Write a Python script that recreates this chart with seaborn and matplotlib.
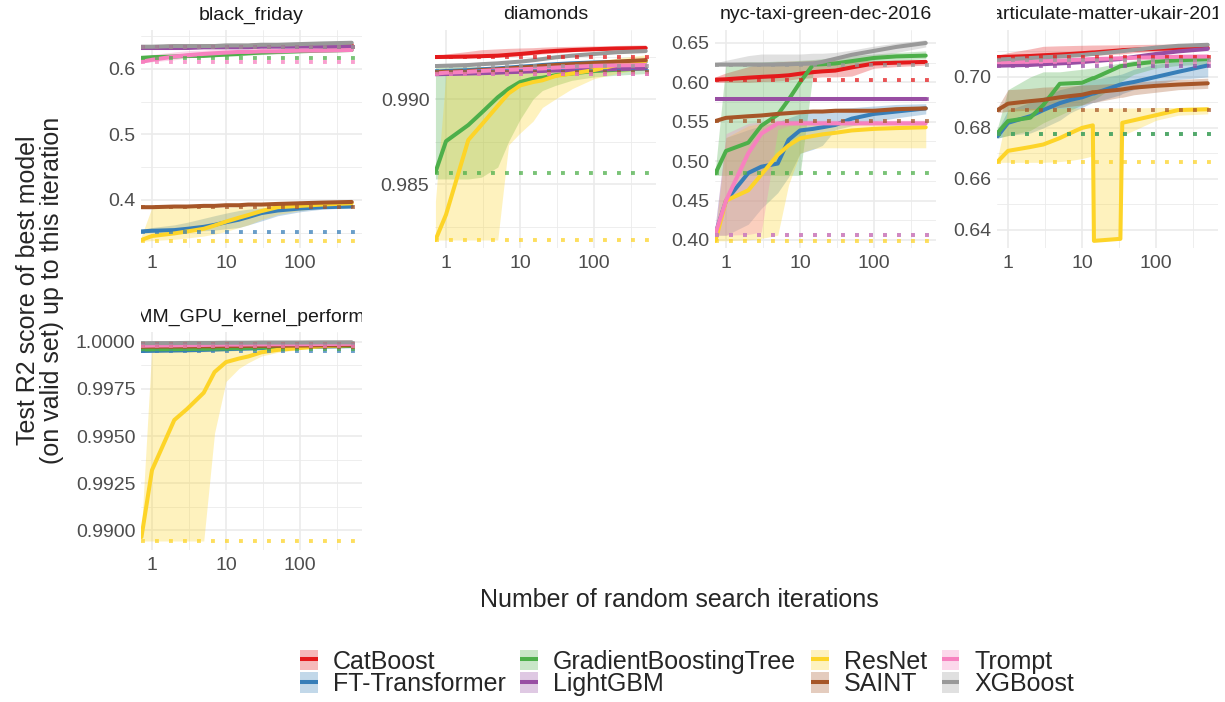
import numpy as np
import pandas as pd
import matplotlib.pyplot as plt
import seaborn as sns
from matplotlib.lines import Line2D
from matplotlib.patches import Patch
from matplotlib.ticker import FixedLocator, NullFormatter
from matplotlib.transforms import Bbox, TransformedBbox

# Data
# --------------

MODELS = ["CatBoost", "FT-Transformer", "GradientBoostingTree", "LightGBM",
          "ResNet", "SAINT", "Trompt", "XGBoost"]
PALETTE = ["#E41A1C", "#377EB8", "#4DAF4A", "#984EA3",
           "#FDD428", "#A65628", "#F781BF", "#999999"]

ITERS = [0.72, 1, 2, 3, 5, 7, 10, 15, 20, 30, 50, 100, 200, 500]
PM_ITERS = [0.72, 1, 2, 3, 5, 7, 10, 14, 14.5, 33, 35, 50, 100, 200, 500]

# black_friday
BF_MED = {
    "CatBoost": [0.633, 0.633, 0.634, 0.634, 0.634, 0.635, 0.635, 0.635, 0.635, 0.636, 0.636, 0.636, 0.637, 0.637],
    "FT-Transformer": [0.352, 0.353, 0.354, 0.356, 0.359, 0.362, 0.366, 0.370, 0.374, 0.380, 0.384, 0.387, 0.389, 0.390],
    "GradientBoostingTree": [0.617, 0.618, 0.619, 0.620, 0.620, 0.621, 0.622, 0.623, 0.624, 0.625, 0.626, 0.627, 0.628, 0.629],
    "LightGBM": [0.632, 0.632, 0.632, 0.632, 0.633, 0.633, 0.633, 0.633, 0.633, 0.634, 0.634, 0.634, 0.634, 0.634],
    "ResNet": [0.339, 0.345, 0.349, 0.352, 0.356, 0.361, 0.367, 0.373, 0.377, 0.383, 0.389, 0.391, 0.393, 0.395],
    "SAINT": [0.389, 0.389, 0.390, 0.390, 0.391, 0.391, 0.392, 0.392, 0.393, 0.393, 0.394, 0.395, 0.396, 0.397],
    "Trompt": [0.611, 0.614, 0.619, 0.621, 0.623, 0.624, 0.625, 0.626, 0.626, 0.627, 0.627, 0.628, 0.628, 0.629],
    "XGBoost": [0.634, 0.634, 0.635, 0.635, 0.635, 0.635, 0.636, 0.636, 0.636, 0.637, 0.637, 0.638, 0.639, 0.640],
}
BF_LO = {
    "FT-Transformer": [0.351, 0.351, 0.351, 0.352, 0.353, 0.354, 0.356, 0.358, 0.362, 0.368, 0.376, 0.382, 0.386, 0.388],
    "GradientBoostingTree": [0.616, 0.617, 0.617, 0.618, 0.618, 0.619, 0.620, 0.620, 0.621, 0.622, 0.623, 0.625, 0.626, 0.627],
    "ResNet": [0.337, 0.338, 0.340, 0.342, 0.345, 0.348, 0.352, 0.358, 0.362, 0.370, 0.378, 0.384, 0.388, 0.390],
    "Trompt": [0.610, 0.611, 0.614, 0.617, 0.619, 0.621, 0.622, 0.623, 0.624, 0.625, 0.626, 0.627, 0.628, 0.628],
}
BF_HI = {
    "FT-Transformer": [0.355, 0.358, 0.362, 0.366, 0.372, 0.376, 0.380, 0.384, 0.386, 0.388, 0.389, 0.390, 0.391, 0.392],
    "GradientBoostingTree": [0.619, 0.620, 0.622, 0.623, 0.624, 0.625, 0.626, 0.627, 0.628, 0.628, 0.629, 0.630, 0.631, 0.632],
    "ResNet": [0.345, 0.389, 0.389, 0.389, 0.389, 0.389, 0.389, 0.390, 0.390, 0.391, 0.392, 0.393, 0.395, 0.396],
    "Trompt": [0.614, 0.622, 0.626, 0.628, 0.629, 0.630, 0.630, 0.630, 0.630, 0.631, 0.631, 0.631, 0.631, 0.631],
}
BF_DEFAULT = {"CatBoost": 0.633, "FT-Transformer": 0.351, "GradientBoostingTree": 0.617,
              "LightGBM": 0.633, "ResNet": 0.3374, "SAINT": 0.389, "Trompt": 0.611, "XGBoost": 0.634}

# diamonds
DIA_MED = {
    "CatBoost": [0.99247, 0.99248, 0.99250, 0.99252, 0.99255, 0.99260, 0.99265, 0.99272, 0.99278, 0.99283, 0.99288, 0.99293, 0.99297, 0.99300],
    "FT-Transformer": [0.99160, 0.99165, 0.99170, 0.99175, 0.99180, 0.99185, 0.99190, 0.99195, 0.99200, 0.99205, 0.99210, 0.99215, 0.99218, 0.99220],
    "GradientBoostingTree": [0.98570, 0.98752, 0.98847, 0.98918, 0.99010, 0.99060, 0.99100, 0.99120, 0.99125, 0.99140, 0.99150, 0.99165, 0.99172, 0.99180],
    "LightGBM": [0.99146, 0.99147, 0.99150, 0.99152, 0.99155, 0.99158, 0.99160, 0.99163, 0.99165, 0.99168, 0.99170, 0.99173, 0.99176, 0.99180],
    "ResNet": [0.98171, 0.98320, 0.98759, 0.98847, 0.98960, 0.99033, 0.99080, 0.99100, 0.99110, 0.99135, 0.99150, 0.99170, 0.99200, 0.99224],
    "SAINT": [0.99159, 0.99160, 0.99165, 0.99170, 0.99175, 0.99180, 0.99185, 0.99190, 0.99195, 0.99200, 0.99205, 0.99212, 0.99220, 0.99229],
    "Trompt": [0.99150, 0.99155, 0.99160, 0.99165, 0.99170, 0.99172, 0.99175, 0.99178, 0.99180, 0.99185, 0.99190, 0.99195, 0.99198, 0.99200],
    "XGBoost": [0.99194, 0.99196, 0.99200, 0.99205, 0.99210, 0.99215, 0.99220, 0.99228, 0.99235, 0.99245, 0.99255, 0.99265, 0.99275, 0.99282],
}
DIA_LO = {
    "CatBoost": [0.99240, 0.99240, 0.99242, 0.99245, 0.99248, 0.99250, 0.99255, 0.99260, 0.99265, 0.99270, 0.99278, 0.99285, 0.99290, 0.99295],
    "GradientBoostingTree": [0.98530, 0.98530, 0.98530, 0.98540, 0.98600, 0.98750, 0.98880, 0.99000, 0.99050, 0.99080, 0.99110, 0.99130, 0.99140, 0.99150],
    "ResNet": [0.98171, 0.98171, 0.98171, 0.98171, 0.98171, 0.98730, 0.98800, 0.98870, 0.98950, 0.99000, 0.99060, 0.99120, 0.99150, 0.99180],
}
DIA_HI = {
    "CatBoost": [0.99255, 0.99265, 0.99280, 0.99290, 0.99295, 0.99298, 0.99300, 0.99302, 0.99305, 0.99308, 0.99310, 0.99312, 0.99315, 0.99318],
    "GradientBoostingTree": [0.99200, 0.99200, 0.99195, 0.99190, 0.99185, 0.99180, 0.99185, 0.99190, 0.99190, 0.99195, 0.99200, 0.99205, 0.99210, 0.99215],
    "ResNet": [0.98400, 0.99150, 0.99160, 0.99170, 0.99175, 0.99180, 0.99185, 0.99190, 0.99195, 0.99200, 0.99210, 0.99220, 0.99240, 0.99260],
}
DIA_DEFAULT = {"CatBoost": 0.99247, "FT-Transformer": 0.99165, "GradientBoostingTree": 0.98565,
               "LightGBM": 0.99146, "ResNet": 0.98171, "SAINT": 0.99160, "Trompt": 0.99150, "XGBoost": 0.99194}

# nyc-taxi-green-dec-2016
NYC_MED = {
    "CatBoost": [0.6035, 0.6040, 0.606, 0.607, 0.608, 0.609, 0.611, 0.613, 0.614, 0.615, 0.619, 0.624, 0.625, 0.626],
    "FT-Transformer": [0.408, 0.450, 0.485, 0.493, 0.497, 0.527, 0.539, 0.541, 0.543, 0.546, 0.554, 0.560, 0.563, 0.567],
    "GradientBoostingTree": [0.4845, 0.513, 0.5235, 0.545, 0.559, 0.578, 0.600, 0.6225, 0.623, 0.624, 0.627, 0.631, 0.633, 0.634],
    "LightGBM": [0.579, 0.579, 0.579, 0.579, 0.579, 0.579, 0.579, 0.579, 0.579, 0.579, 0.579, 0.579, 0.579, 0.579],
    "ResNet": [0.399, 0.450, 0.463, 0.483, 0.508, 0.520, 0.529, 0.532, 0.534, 0.536, 0.539, 0.541, 0.542, 0.543],
    "SAINT": [0.551, 0.555, 0.557, 0.558, 0.560, 0.561, 0.562, 0.563, 0.563, 0.564, 0.564, 0.564, 0.566, 0.567],
    "Trompt": [0.408, 0.450, 0.510, 0.535, 0.548, 0.548, 0.548, 0.548, 0.548, 0.548, 0.548, 0.548, 0.548, 0.548],
    "XGBoost": [0.6226, 0.6226, 0.6226, 0.6226, 0.6228, 0.623, 0.6235, 0.624, 0.626, 0.630, 0.635, 0.640, 0.645, 0.650],
}
NYC_LO = {
    "CatBoost": [0.600, 0.600, 0.600, 0.601, 0.602, 0.603, 0.605, 0.606, 0.607, 0.607, 0.608, 0.618, 0.620, 0.622],
    "FT-Transformer": [0.406, 0.406, 0.420, 0.440, 0.460, 0.480, 0.510, 0.515, 0.520, 0.540, 0.545, 0.550, 0.555, 0.560],
    "GradientBoostingTree": [0.482, 0.482, 0.482, 0.482, 0.482, 0.482, 0.482, 0.612, 0.615, 0.617, 0.620, 0.625, 0.628, 0.630],
    "ResNet": [0.399, 0.399, 0.400, 0.402, 0.406, 0.470, 0.510, 0.516, 0.517, 0.517, 0.517, 0.517, 0.517, 0.517],
    "Trompt": [0.406, 0.406, 0.407, 0.410, 0.540, 0.545, 0.546, 0.546, 0.546, 0.546, 0.546, 0.546, 0.546, 0.546],
    "XGBoost": [0.621, 0.621, 0.621, 0.621, 0.621, 0.622, 0.622, 0.623, 0.623, 0.624, 0.627, 0.632, 0.638, 0.645],
}
NYC_HI = {
    "CatBoost": [0.607, 0.612, 0.620, 0.624, 0.626, 0.627, 0.627, 0.628, 0.628, 0.628, 0.628, 0.628, 0.628, 0.628],
    "FT-Transformer": [0.420, 0.530, 0.540, 0.545, 0.550, 0.555, 0.560, 0.563, 0.565, 0.567, 0.568, 0.570, 0.572, 0.573],
    "GradientBoostingTree": [0.490, 0.625, 0.626, 0.626, 0.627, 0.627, 0.628, 0.629, 0.630, 0.632, 0.634, 0.636, 0.638, 0.640],
    "ResNet": [0.410, 0.530, 0.545, 0.548, 0.549, 0.550, 0.550, 0.550, 0.550, 0.550, 0.550, 0.550, 0.550, 0.550],
    "Trompt": [0.420, 0.535, 0.548, 0.550, 0.552, 0.552, 0.552, 0.552, 0.552, 0.552, 0.552, 0.552, 0.552, 0.552],
    "XGBoost": [0.625, 0.628, 0.634, 0.636, 0.636, 0.636, 0.636, 0.637, 0.637, 0.638, 0.641, 0.646, 0.650, 0.654],
}
NYC_DEFAULT = {"CatBoost": 0.6035, "FT-Transformer": 0.406, "GradientBoostingTree": 0.4845,
               "LightGBM": 0.579, "ResNet": 0.399, "SAINT": 0.551, "Trompt": 0.406, "XGBoost": 0.6226}

# particulate-matter-ukair-2017
PM_MED = {
    "CatBoost": [0.7078, 0.7079, 0.7082, 0.7085, 0.7088, 0.7090, 0.7093, 0.7096, 0.7096, 0.7104, 0.7105, 0.7107, 0.7110, 0.7112, 0.7114],
    "FT-Transformer": [0.6767, 0.6820, 0.6846, 0.6870, 0.6897, 0.6910, 0.6920, 0.6935, 0.6935, 0.6970, 0.6972, 0.6980, 0.7000, 0.7020, 0.7045],
    "GradientBoostingTree": [0.6780, 0.6827, 0.6840, 0.6890, 0.6973, 0.6975, 0.6977, 0.6995, 0.6995, 0.7042, 0.7043, 0.7050, 0.7060, 0.7065, 0.7070],
    "LightGBM": [0.7044, 0.7045, 0.7047, 0.7050, 0.7053, 0.7055, 0.7058, 0.7062, 0.7062, 0.7070, 0.7072, 0.7078, 0.7090, 0.7100, 0.7110],
    "ResNet": [0.6667, 0.6710, 0.6725, 0.6735, 0.6760, 0.6780, 0.6800, 0.6810, 0.6357, 0.6365, 0.6820, 0.6830, 0.6850, 0.6870, 0.6873],
    "SAINT": [0.6870, 0.6895, 0.6905, 0.6910, 0.6920, 0.6925, 0.6930, 0.6940, 0.6940, 0.6950, 0.6951, 0.6958, 0.6965, 0.6970, 0.6975],
    "Trompt": [0.7057, 0.7058, 0.7060, 0.7062, 0.7064, 0.7066, 0.7068, 0.7070, 0.7070, 0.7073, 0.7073, 0.7075, 0.7077, 0.7079, 0.7080],
    "XGBoost": [0.7068, 0.7070, 0.7074, 0.7077, 0.7080, 0.7083, 0.7086, 0.7090, 0.7090, 0.7100, 0.7101, 0.7106, 0.7115, 0.7122, 0.7126],
}
PM_LO = {
    "CatBoost": [0.7070, 0.7070, 0.7072, 0.7075, 0.7078, 0.7080, 0.7082, 0.7085, 0.7085, 0.7090, 0.7090, 0.7095, 0.7100, 0.7105, 0.7108],
    "FT-Transformer": [0.6760, 0.6770, 0.6780, 0.6800, 0.6830, 0.6860, 0.6880, 0.6900, 0.6900, 0.6930, 0.6935, 0.6950, 0.6970, 0.6990, 0.7000],
    "GradientBoostingTree": [0.6760, 0.6770, 0.6790, 0.6820, 0.6850, 0.6870, 0.6890, 0.6910, 0.6910, 0.6980, 0.6985, 0.7010, 0.7035, 0.7045, 0.7050],
    "ResNet": [0.6665, 0.6665, 0.6665, 0.6665, 0.6668, 0.6672, 0.6680, 0.6690, 0.6357, 0.6360, 0.6770, 0.6790, 0.6830, 0.6850, 0.6855],
    "SAINT": [0.6860, 0.6865, 0.6870, 0.6875, 0.6880, 0.6885, 0.6890, 0.6900, 0.6900, 0.6920, 0.6920, 0.6930, 0.6940, 0.6950, 0.6955],
}
PM_HI = {
    "CatBoost": [0.7085, 0.7095, 0.7110, 0.7120, 0.7122, 0.7123, 0.7124, 0.7125, 0.7125, 0.7126, 0.7126, 0.7127, 0.7128, 0.7129, 0.7130],
    "FT-Transformer": [0.6790, 0.6870, 0.6900, 0.6920, 0.6950, 0.6960, 0.6970, 0.6990, 0.6990, 0.7010, 0.7012, 0.7030, 0.7050, 0.7060, 0.7070],
    "GradientBoostingTree": [0.6800, 0.6950, 0.7000, 0.7020, 0.7020, 0.7025, 0.7030, 0.7035, 0.7035, 0.7055, 0.7055, 0.7065, 0.7075, 0.7080, 0.7082],
    "ResNet": [0.6680, 0.6875, 0.6875, 0.6877, 0.6877, 0.6878, 0.6878, 0.6878, 0.6878, 0.6878, 0.6878, 0.6878, 0.6880, 0.6880, 0.6882],
    "SAINT": [0.6880, 0.6950, 0.6955, 0.6960, 0.6962, 0.6965, 0.6968, 0.6970, 0.6970, 0.6975, 0.6975, 0.6980, 0.6985, 0.6990, 0.6995],
}
PM_DEFAULT = {"CatBoost": 0.7078, "FT-Transformer": 0.6775, "GradientBoostingTree": 0.6775,
              "LightGBM": 0.7044, "ResNet": 0.6665, "SAINT": 0.687, "Trompt": 0.7057, "XGBoost": 0.7068}

# SGEMM_GPU_kernel_performance
GPU_MED = {
    "CatBoost": [0.99988, 0.99988, 0.99989, 0.99990, 0.99990, 0.99991, 0.99991, 0.99992, 0.99992, 0.99993, 0.99993, 0.99994, 0.99994, 0.99995],
    "FT-Transformer": [0.99952, 0.99953, 0.99955, 0.99956, 0.99958, 0.99960, 0.99962, 0.99964, 0.99965, 0.99967, 0.99970, 0.99973, 0.99976, 0.99978],
    "GradientBoostingTree": [0.99960, 0.99961, 0.99962, 0.99963, 0.99964, 0.99965, 0.99966, 0.99968, 0.99969, 0.99971, 0.99973, 0.99975, 0.99977, 0.99979],
    "LightGBM": [0.99985, 0.99985, 0.99986, 0.99986, 0.99987, 0.99987, 0.99988, 0.99988, 0.99988, 0.99989, 0.99989, 0.99990, 0.99990, 0.99990],
    "ResNet": [0.98963, 0.99319, 0.99585, 0.99645, 0.99730, 0.99840, 0.99893, 0.99912, 0.99923, 0.99945, 0.99958, 0.99968, 0.99978, 0.99984],
    "SAINT": [0.99975, 0.99975, 0.99976, 0.99976, 0.99977, 0.99977, 0.99978, 0.99978, 0.99979, 0.99979, 0.99980, 0.99981, 0.99982, 0.99983],
    "Trompt": [0.99980, 0.99981, 0.99982, 0.99983, 0.99984, 0.99985, 0.99986, 0.99986, 0.99987, 0.99987, 0.99988, 0.99988, 0.99989, 0.99990],
    "XGBoost": [0.99993, 0.99994, 0.99994, 0.99995, 0.99995, 0.99995, 0.99996, 0.99996, 0.99996, 0.99997, 0.99997, 0.99997, 0.99998, 0.99998],
}
GPU_LO = {
    "GradientBoostingTree": [0.99945, 0.99945, 0.99946, 0.99947, 0.99948, 0.99950, 0.99952, 0.99955, 0.99958, 0.99962, 0.99966, 0.99970, 0.99973, 0.99975],
    "ResNet": [0.98942, 0.98942, 0.98942, 0.98942, 0.98942, 0.99516, 0.99790, 0.99860, 0.99890, 0.99925, 0.99945, 0.99960, 0.99972, 0.99978],
}
GPU_HI = {
    "GradientBoostingTree": [0.99970, 0.99972, 0.99974, 0.99975, 0.99976, 0.99977, 0.99978, 0.99979, 0.99980, 0.99981, 0.99982, 0.99983, 0.99984, 0.99985],
    "ResNet": [0.99000, 0.99985, 0.99988, 0.99990, 0.99991, 0.99992, 0.99993, 0.99993, 0.99994, 0.99994, 0.99995, 0.99995, 0.99996, 0.99996],
}
GPU_DEFAULT = {"CatBoost": 0.99990, "FT-Transformer": 0.99952, "GradientBoostingTree": 0.99960,
               "LightGBM": 0.99985, "ResNet": 0.98942, "SAINT": 0.99975, "Trompt": 0.99980, "XGBoost": 0.99993}

# Set-up
# --------------

sns.set_style("white")
plt.rcParams['font.family'] = ['Liberation Sans', 'DejaVu Sans']

W, H = 1225, 702
fig = plt.figure(figsize=(W / 100, H / 100), dpi=100)


def long_frame(iters, med, lo, hi):
    # three rows per point (lower, median, upper) so that seaborn's
    # median estimator + 100% interval gives line and ribbon
    rows = []
    for m in MODELS:
        for series in (lo.get(m, med[m]), med[m], hi.get(m, med[m])):
            for x, y in zip(iters, series):
                rows.append((m, x, y))
    return pd.DataFrame(rows, columns=["model", "iteration", "r2"])


panels = [
    ("black_friday", ITERS, BF_MED, BF_LO, BF_HI, BF_DEFAULT,
     (141, 30), (0.3267, 0.6595), [0.4, 0.5, 0.6], [0.35, 0.45, 0.55, 0.65], "{:.1f}"),
    ("diamonds", ITERS, DIA_MED, DIA_LO, DIA_HI, DIA_DEFAULT,
     (435, 30), (0.98124, 0.99406), [0.985, 0.990], [0.9825, 0.9875, 0.9925], "{:.3f}"),
    ("nyc-taxi-green-dec-2016", ITERS, NYC_MED, NYC_LO, NYC_HI, NYC_DEFAULT,
     (715, 30), (0.3898, 0.6665), [0.40, 0.45, 0.50, 0.55, 0.60, 0.65],
     [0.425, 0.475, 0.525, 0.575, 0.625], "{:.2f}"),
    ("particulate-matter-ukair-2017", PM_ITERS, PM_MED, PM_LO, PM_HI, PM_DEFAULT,
     (997, 30), (0.6329, 0.7184), [0.64, 0.66, 0.68, 0.70], [0.65, 0.67, 0.69, 0.71], "{:.2f}"),
    ("SGEMM_GPU_kernel_performance", ITERS, GPU_MED, GPU_LO, GPU_HI, GPU_DEFAULT,
     (141, 332), (0.98894, 1.00053), [0.9900, 0.9925, 0.9950, 0.9975, 1.0000],
     [0.99125, 0.99375, 0.99625, 0.99875], "{:.4f}"),
]

PW, PH = 221, 218
colors = dict(zip(MODELS, PALETTE))

for title, iters, med, lo, hi, default, (px, py), ylim, yt, ytm, fmt in panels:
    ax = fig.add_axes([px / W, 1 - (py + PH) / H, PW / W, PH / H])
    ax.set_xscale("log")
    df = long_frame(iters, med, lo, hi)
    sns.lineplot(data=df, x="iteration", y="r2", hue="model", hue_order=MODELS,
                 palette=PALETTE, estimator="median", errorbar=("pi", 100),
                 err_kws={"alpha": 0.3, "linewidth": 0}, linewidth=2.9,
                 legend=False, ax=ax)
    for m in MODELS:
        ax.axhline(default[m], color=colors[m], linestyle=(0, (1, 2.6)),
                   linewidth=2.8, alpha=0.75)

    ax.set_xlim(0.71, 688)
    ax.set_ylim(*ylim)
    ax.set_xticks([1, 10, 100])
    ax.set_xticklabels(["1", "10", "100"])
    ax.xaxis.set_minor_locator(FixedLocator([3.162, 31.62, 316.2]))
    ax.xaxis.set_minor_formatter(NullFormatter())
    ax.set_yticks(yt)
    ax.set_yticklabels([fmt.format(v) for v in yt])
    ax.set_yticks(ytm, minor=True)
    ax.grid(which="major", color="#EBEBEB", linewidth=1.2)
    ax.grid(which="minor", color="#EBEBEB", linewidth=0.6)
    ax.set_axisbelow(True)
    ax.tick_params(which="both", length=0, labelsize=14, labelcolor="#4D4D4D")
    ax.tick_params(axis="y", pad=4)
    ax.tick_params(axis="x", pad=5)
    for s in ax.spines.values():
        s.set_visible(False)
    ax.set_xlabel("")
    ax.set_ylabel("")

    # facet strip title, clipped to the panel width like in ggplot
    t = ax.text(0.5, 1.0 + 15 / PH, title, transform=ax.transAxes, ha="center",
                va="center", fontsize=14, color="#1A1A1A")
    t.set_clip_box(TransformedBbox(Bbox([[0, 1], [1, 1.2]]), ax.transAxes))
    t.set_clip_on(True)

fig.text(679 / W, 1 - 600 / H, "Number of random search iterations",
         ha="center", va="center", fontsize=18)
fig.text(40 / W, 1 - 290 / H, "Test R2 score of best model\n(on valid set) up to this iteration",
         ha="center", va="center", rotation=90, fontsize=18, linespacing=1.0,
         multialignment="center")

handles = [(Patch(facecolor=c, alpha=0.3, linewidth=0),
            Line2D([], [], color=c, linewidth=2.9, solid_capstyle="butt"))
           for c in PALETTE]
fig.legend(handles, MODELS, ncol=4, loc="center", bbox_to_anchor=(687 / W, 1 - 673 / H),
           frameon=False, fontsize=18, handlelength=0.7, handleheight=0.9,
           handletextpad=0.6, columnspacing=0.6, labelspacing=-0.05, borderpad=0)

fig.savefig("out.png", dpi=100)
